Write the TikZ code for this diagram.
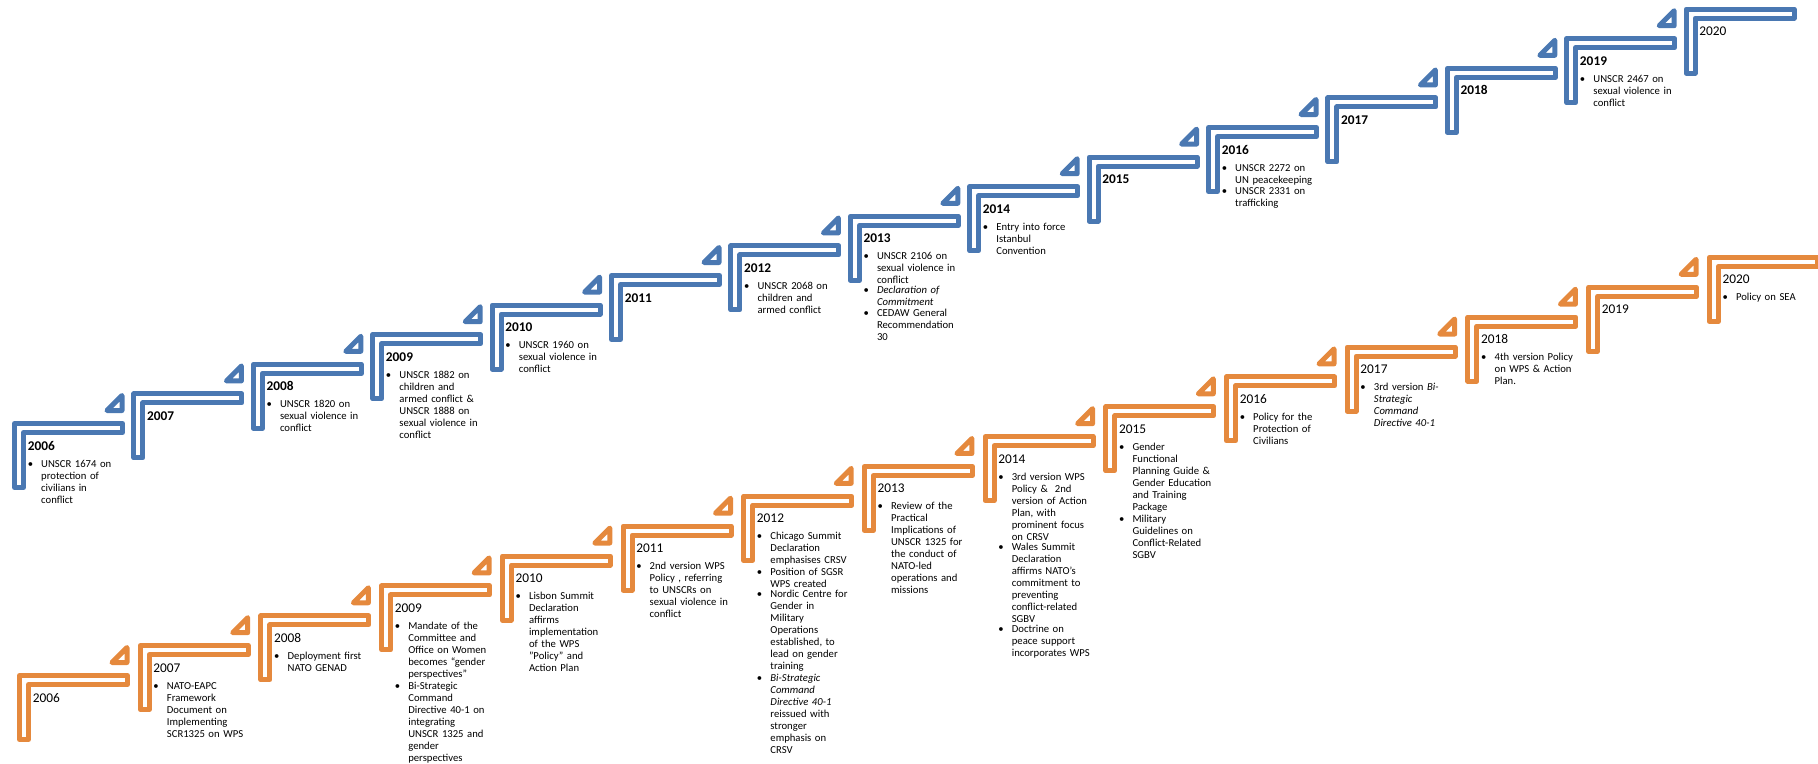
\documentclass[tikz,border=0pt]{standalone}
\usepackage{fontspec}
\setmainfont{Carlito}
\usetikzlibrary{calc}
\definecolor{tlblue}{HTML}{4A78B2}
\definecolor{tlorange}{HTML}{E5893D}
\tikzset{
  stepline/.style = {line width=3.75pt, line join=round},
  byear/.style    = {anchor=base west, inner sep=0pt,
                     font=\fontsize{10}{12}\selectfont\bfseries},
  oyear/.style    = {anchor=base west, inner sep=0pt,
                     font=\fontsize{10}{12}\selectfont},
  evtext/.style   = {anchor=base west, inner sep=0pt, text width=80pt,
                     font=\fontsize{8}{9}\selectfont},
}
\newcommand{\bitem}[1]{\makebox[10.1pt][l]{\textbullet}%
  \parbox[t]{68pt}{\fontsize{8}{9}\selectfont #1}}
\newcommand{\stepL}[2]{%
  \draw[stepline, draw=#1] ($(#2)+(2.5,2.5)$) -- ++(108,0) -- ++(0,9)
    -- ++(-99,0) -- ++(0,55) -- ++(-9,0) -- cycle;}
\newcommand{\stepT}[2]{%
  \draw[stepline, draw=#1] ($(#2)+(95,-10.5)$) -- ++(15,0) -- ++(0,-15) -- cycle;}

\begin{document}
\begin{tikzpicture}[x=0.75pt, y=-0.75pt]
  \useasboundingbox (0,0) rectangle (1818,764);
  \clip (0,0) rectangle (1818,764);
  \foreach \i in {0,...,14}{
    \pgfmathtruncatemacro\yr{2006+\i}
    \coordinate (b\yr) at ({12+119.4*\i},{421-29.6*\i});
    \coordinate (o\yr) at ({17+120.7*\i},{673-29.86*\i});
  }
  \foreach \yr in {2006,...,2020}{\stepL{tlblue}{b\yr}\stepL{tlorange}{o\yr}}
  \foreach \yr in {2006,...,2019}{\stepT{tlblue}{b\yr}\stepT{tlorange}{o\yr}}

  \foreach \yr in {2006,...,2019}{\node[byear] (b\yr y) at ($(b\yr)+(15.5,29)$) {\yr};}
  \node[oyear] (b2020y) at ($(b2020)+(15.5,29)$) {2020};
  \foreach \yr in {2006,...,2020}{\node[oyear] (o\yr y) at ($(o\yr)+(15.5,29)$) {\yr};}

  \node[evtext] (b2006t) at ($(b2006)+(15.5,46)$) {\bitem{UNSCR 1674 on\\protection of\\civilians in\\conflict}};
  \node[evtext] (b2008t) at ($(b2008)+(15.5,46)$) {\bitem{UNSCR 1820 on\\sexual violence in\\conflict}};
  \node[evtext] (b2009t) at ($(b2009)+(15.5,46)$) {\bitem{UNSCR 1882 on\\children and\\armed conflict \&\\UNSCR 1888 on\\sexual violence in\\conflict}};
  \node[evtext] (b2010t) at ($(b2010)+(15.5,46)$) {\bitem{UNSCR 1960 on\\sexual violence in\\conflict}};
  \node[evtext] (b2012t) at ($(b2012)+(15.5,46)$) {\bitem{UNSCR 2068 on\\children and\\armed conflict}};
  \node[evtext] (b2013t) at ($(b2013)+(15.5,46)$) {\bitem{UNSCR 2106 on\\sexual violence in\\conflict}\\[1pt]
    \bitem{\textit{Declaration of\\Commitment}}\\[1pt]\bitem{CEDAW General\\Recommendation\\30}};
  \node[evtext] (b2014t) at ($(b2014)+(15.5,46)$) {\bitem{Entry into force\\Istanbul\\Convention}};
  \node[evtext] (b2016t) at ($(b2016)+(15.5,46)$) {\bitem{UNSCR 2272 on\\UN peacekeeping}\\[1pt]\bitem{UNSCR 2331 on\\trafficking}};
  \node[evtext] (b2019t) at ($(b2019)+(15.5,46)$) {\bitem{UNSCR 2467 on\\sexual violence in\\conflict}};

  \node[evtext] (o2007t) at ($(o2007)+(15.5,46)$) {\bitem{NATO-EAPC\\Framework\\Document on\\Implementing\\SCR1325 on WPS}};
  \node[evtext] (o2008t) at ($(o2008)+(15.5,46)$) {\bitem{Deployment first\\NATO GENAD}};
  \node[evtext] (o2009t) at ($(o2009)+(15.5,46)$) {\bitem{Mandate of the\\Committee and\\Office on Women\\becomes “gender\\perspectives”}\\[1pt]
    \bitem{Bi-Strategic\\Command\\Directive 40-1 on\\integrating\\UNSCR 1325 and\\gender\\perspectives}};
  \node[evtext] (o2010t) at ($(o2010)+(15.5,46)$) {\bitem{Lisbon Summit\\Declaration\\affirms\\implementation\\of the WPS\\"Policy" and\\Action Plan}};
  \node[evtext] (o2011t) at ($(o2011)+(15.5,46)$) {\bitem{2nd version WPS\\Policy , referring\\to UNSCRs on\\sexual violence in\\conflict}};
  \node[evtext] (o2012t) at ($(o2012)+(15.5,46)$) {\bitem{Chicago Summit\\Declaration\\emphasises CRSV}\\[1pt]
    \bitem{Position of SGSR\\WPS created}\\[1pt]
    \bitem{Nordic Centre for\\Gender in\\Military\\Operations\\established, to\\lead on gender\\training}\\[1pt]
    \bitem{\textit{Bi-Strategic}\\\textit{Command}\\\textit{Directive 40-1}\\reissued with\\stronger\\emphasis on\\CRSV}};
  \node[evtext] (o2013t) at ($(o2013)+(15.5,46)$) {\bitem{Review of the\\Practical\\Implications of\\UNSCR 1325 for\\the conduct of\\NATO-led\\operations and\\missions}};
  \node[evtext] (o2014t) at ($(o2014)+(15.5,46)$) {\bitem{3rd version WPS\\Policy \&\ \ 2nd\\version of Action\\Plan, with\\prominent focus\\on CRSV}\\[1pt]
    \bitem{Wales Summit\\Declaration\\affirms NATO’s\\commitment to\\preventing\\conflict-related\\SGBV}\\[1pt]
    \bitem{Doctrine on\\peace support\\incorporates WPS}};
  \node[evtext] (o2015t) at ($(o2015)+(15.5,46)$) {\bitem{Gender\\Functional\\Planning Guide \&\\Gender Education\\and Training\\Package}\\[1pt]
    \bitem{Military\\Guidelines on\\Conflict-Related\\SGBV}};
  \node[evtext] (o2016t) at ($(o2016)+(15.5,46)$) {\bitem{Policy for the\\Protection of\\Civilians}};
  \node[evtext] (o2017t) at ($(o2017)+(15.5,46)$) {\bitem{3rd version \textit{Bi-}\\\textit{Strategic}\\\textit{Command}\\\textit{Directive 40-1}}};
  \node[evtext] (o2018t) at ($(o2018)+(15.5,46)$) {\bitem{4th version Policy\\on WPS \& Action\\Plan.}};
  \node[evtext] (o2020t) at ($(o2020)+(15.5,46)$) {\bitem{Policy on SEA}};
\end{tikzpicture}
\end{document}
